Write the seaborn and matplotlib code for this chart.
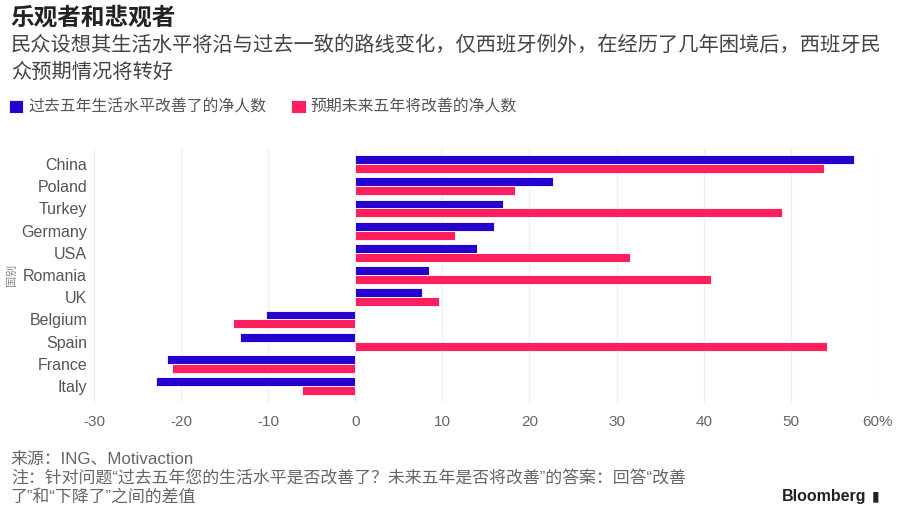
import matplotlib
matplotlib.use("Agg")
from matplotlib import pyplot as plt
import pandas as pd
import seaborn as sns

countries = ["China", "Poland", "Turkey", "Germany", "USA", "Romania", "UK",
             "Belgium", "Spain", "France", "Italy"]
past_five = [57.3, 22.7, 17.0, 15.9, 14.0, 8.5, 7.7, -10.3, -13.2, -21.6, -22.9]
next_five = [53.8, 18.3, 49.0, 11.5, 31.6, 40.8, 9.6, -14.0, 54.2, -21.0, -6.1]
series_names = ["过去五年生活水平改善了的净人数", "预期未来五年将改善的净人数"]
x_ticks = [-30, -20, -10, 0, 10, 20, 30, 40, 50, 60]
x_labels = ["-30", "-20", "-10", "0", "10", "20", "30", "40", "50", "60%"]

df = pd.DataFrame({
    "country": countries * 2,
    "value": past_five + next_five,
    "series": [series_names[0]] * len(countries) + [series_names[1]] * len(countries),
})

sns.set_theme(style="white")
plt.rcParams['font.family'] = ['Noto Sans CJK SC', 'DejaVu Sans']
latin_first = ['Liberation Sans', 'Noto Sans CJK SC', 'DejaVu Sans']

fig = plt.figure(figsize=(9.01, 5.15), dpi=100)
ax = fig.add_axes([0.1043, 0.2202, 0.870, 0.4915])

palette = {series_names[0]: "#2600cf", series_names[1]: "#fd1f5e"}
sns.barplot(data=df, y="country", x="value", hue="series", orient="h",
            palette=palette, width=0.8, edgecolor="white", linewidth=0.6,
            saturation=1, ax=ax)

ax.set_xlim(-30, 60)
ax.set_ylim(10.7, -0.7)
ax.set_xticks(x_ticks)
ax.set_xticklabels(x_labels, family=latin_first, fontsize=11, color="#666666")
ax.set_yticklabels(countries, family=latin_first, fontsize=11.5, color="#555555")
ax.tick_params(axis="x", length=0, pad=10)
ax.tick_params(axis="y", length=0, pad=5)
ax.grid(axis="x", color="#eeeeee", linewidth=0.9)
ax.set_axisbelow(True)
for s in ax.spines.values():
    s.set_visible(False)
ax.set_xlabel("")
ax.set_ylabel("国别", fontsize=8, color="#888888", labelpad=2)
ax.yaxis.set_label_coords(-0.098, 0.5)

sns.move_legend(ax, "center left", bbox_to_anchor=(0.010, 0.792),
                bbox_transform=fig.transFigure, ncol=2, frameon=False,
                title=None, fontsize=11.4, handlelength=0.9, handleheight=0.9,
                handletextpad=0.3, columnspacing=1.6, borderaxespad=0,
                borderpad=0)
for t in ax.get_legend().get_texts():
    t.set_color("#555555")

fig.text(0.012, 0.965, "乐观者和悲观者", fontsize=17, fontweight="bold",
         color="#222222", va="center")
fig.text(0.012, 0.912, "民众设想其生活水平将沿与过去一致的路线变化，仅西班牙例外，在经历了几年困境后，西班牙民",
         fontsize=14.6, color="#444444", va="center")
fig.text(0.012, 0.860, "众预期情况将转好", fontsize=14.6, color="#444444", va="center")

fig.text(0.012, 0.107, "来源：ING、Motivaction", fontsize=12.2, color="#666666",
         va="center", family=latin_first)
fig.text(0.012, 0.071, "注：针对问题“过去五年您的生活水平是否改善了？未来五年是否将改善”的答案：回答“改善",
         fontsize=12.2, color="#666666", va="center", family=latin_first)
fig.text(0.012, 0.036, "了”和“下降了”之间的差值", fontsize=12.2, color="#666666",
         va="center", family=latin_first)
fig.text(0.962, 0.036, "Bloomberg", fontsize=11.5, fontweight="bold", color="#222222",
         va="center", ha="right", family=['Liberation Sans', 'DejaVu Sans'])
fig.text(0.967, 0.036, "▮", fontsize=10, color="#222222", va="center", ha="left",
         family=['DejaVu Sans'])

fig.savefig("out.png", dpi=100)
